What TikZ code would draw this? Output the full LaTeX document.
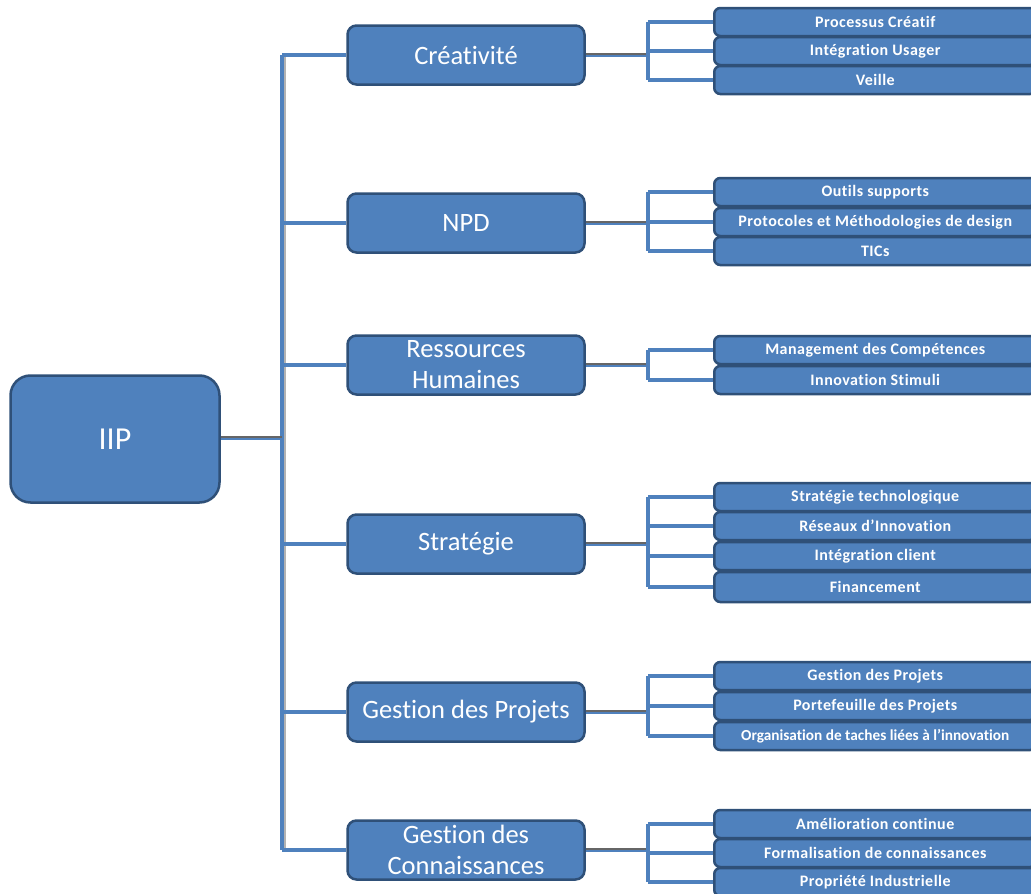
\documentclass[tikz,border=0pt]{standalone}
\usepackage{fontspec}
\setmainfont{Carlito}[Ligatures=NoCommon]
\newfontfamily\leaffont{Carlito}[LetterSpace=3,Ligatures=NoCommon]
\definecolor{cblue}{HTML}{4F81BD}
\definecolor{cedge}{HTML}{2F5078}
\tikzset{
  rootbox/.style={draw=cedge, fill=cblue, line width=2.5pt, rounded corners=20pt,
    minimum width=209pt, minimum height=127pt, text=white, font=\fontsize{32}{36}\selectfont, align=center},
  midbox/.style={draw=cedge, fill=cblue, line width=2.5pt, rounded corners=9pt,
    minimum width=237pt, minimum height=59pt, text=white, font=\fontsize{26.5}{30}\selectfont, align=center, inner sep=0pt},
  leafbox/.style={draw=cedge, fill=cblue, line width=2.5pt, rounded corners=6pt,
    minimum width=322pt, minimum height=28pt, text=white, anchor=west, inner sep=0pt,
    font=\leaffont\bfseries\fontsize{16}{18}\selectfont},
  conn/.style={draw=cblue, line width=4pt},
  connshadow/.style={draw=black!60, line width=2pt},
  trunkshadow/.style={draw=black!30, line width=3pt},
}
\begin{document}
\begin{tikzpicture}[x=1pt,y=-1pt]
\useasboundingbox (0,0) rectangle (1031,894);
\fill[white] (0,0) rectangle (1031,894);
\begin{scope}
\clip (0,0) rectangle (1031,894);
% trunk coordinates
\coordinate (tTop) at (282,55);
\coordinate (tBot) at (282,850);
\coordinate (tRoot) at (282,438);
\coordinate (t1) at (282,55);
\coordinate (t2) at (282,223);
\coordinate (t3) at (282,365);
\coordinate (t4) at (282,544);
\coordinate (t5) at (282,712);
\coordinate (t6) at (282,850);
% bracket coordinates
\coordinate (b1) at (648,55);
\coordinate (b2) at (648,223);
\coordinate (b3) at (648,365);
\coordinate (b4) at (648,544);
\coordinate (b5) at (648,712);
\coordinate (b6) at (648,850);
\foreach \n/\y in {a1/22,a2/51,a3/80, n1/192,n2/222,n3/251, r1/350,r2/380,
  s1/497,s2/526,s3/556,s4/587, p1/676,p2/706,p3/736, k1/824,k2/853,k3/882}{
  \coordinate (c\n) at (648,\y);
}
% trunk
\draw[trunkshadow] ([shift={(2,2)}]tTop) -- ([shift={(2,2)}]tBot);
\draw[conn] (tTop) -- (tBot);
% nodes
\node[rootbox] (iip) at (115,439) {IIP};
\node[midbox] (m1) at (466,55) {Créativité};
\node[midbox] (m2) at (466,223) {NPD};
\node[midbox] (m3) at (466,365) {Ressources\\[1pt]Humaines};
\node[midbox] (m4) at (466,544) {Stratégie};
\node[midbox] (m5) at (466,712) {Gestion des Projets};
\node[midbox] (m6) at (466,850) {Gestion des\\[1pt]Connaissances};
% root connector
\draw[conn] (iip.east |- tRoot) -- (tRoot);
\draw[connshadow] ([yshift=1.5pt]iip.east |- tRoot) -- ([yshift=1.5pt]tRoot);
\foreach \i in {1,...,6}{
  \draw[conn] (t\i) -- (t\i -| m\i.west);
  \draw[conn] (b\i -| m\i.east) -- (b\i);
  \draw[connshadow] ([yshift=1.5pt]b\i -| m\i.east) -- ([yshift=1.5pt]b\i);
}
% bracket verticals
\draw[conn] (ca1) -- (ca3);
\draw[conn] (cn1) -- (cn3);
\draw[conn] (cr1) -- (cr2);
\draw[conn] (cs1) -- (cs4);
\draw[conn] (cp1) -- (cp3);
\draw[conn] (ck1) -- (ck3);
% leaves
\node[leafbox] (a1) at (713,22) {Processus Créatif};
\node[leafbox] (a2) at (713,51) {Intégration Usager};
\node[leafbox] (a3) at (713,80) {Veille};
\node[leafbox] (n1) at (713,192) {Outils supports};
\node[leafbox] (n2) at (713,222) {Protocoles et Méthodologies de design};
\node[leafbox] (n3) at (713,251) {TICs};
\node[leafbox] (r1) at (713,350) {Management des Compétences};
\node[leafbox] (r2) at (713,380) {Innovation Stimuli};
\node[leafbox] (s1) at (713,497) {Stratégie technologique};
\node[leafbox] (s2) at (713,526) {Réseaux d’Innovation};
\node[leafbox] (s3) at (713,556) {Intégration client};
\node[leafbox, minimum height=30pt] (s4) at (713,587) {Financement};
\node[leafbox] (p1) at (713,676) {Gestion des Projets};
\node[leafbox] (p2) at (713,706) {Portefeuille des Projets};
\node[leafbox] (p3) at (713,736) {\fontsize{15.3}{17}\selectfont\addfontfeature{LetterSpace=0}Organisation de taches liées à l’innovation};
\node[leafbox] (k1) at (713,824) {Amélioration continue};
\node[leafbox] (k2) at (713,853) {Formalisation de connaissances};
\node[leafbox] (k3) at (713,882) {Propriété Industrielle};
\foreach \n in {a1,a2,a3,n1,n2,n3,r1,r2,s1,s2,s3,s4,p1,p2,p3,k1,k2,k3}{
  \draw[conn] (c\n) -- (\n.west);
}
\end{scope}
\end{tikzpicture}
\end{document}
